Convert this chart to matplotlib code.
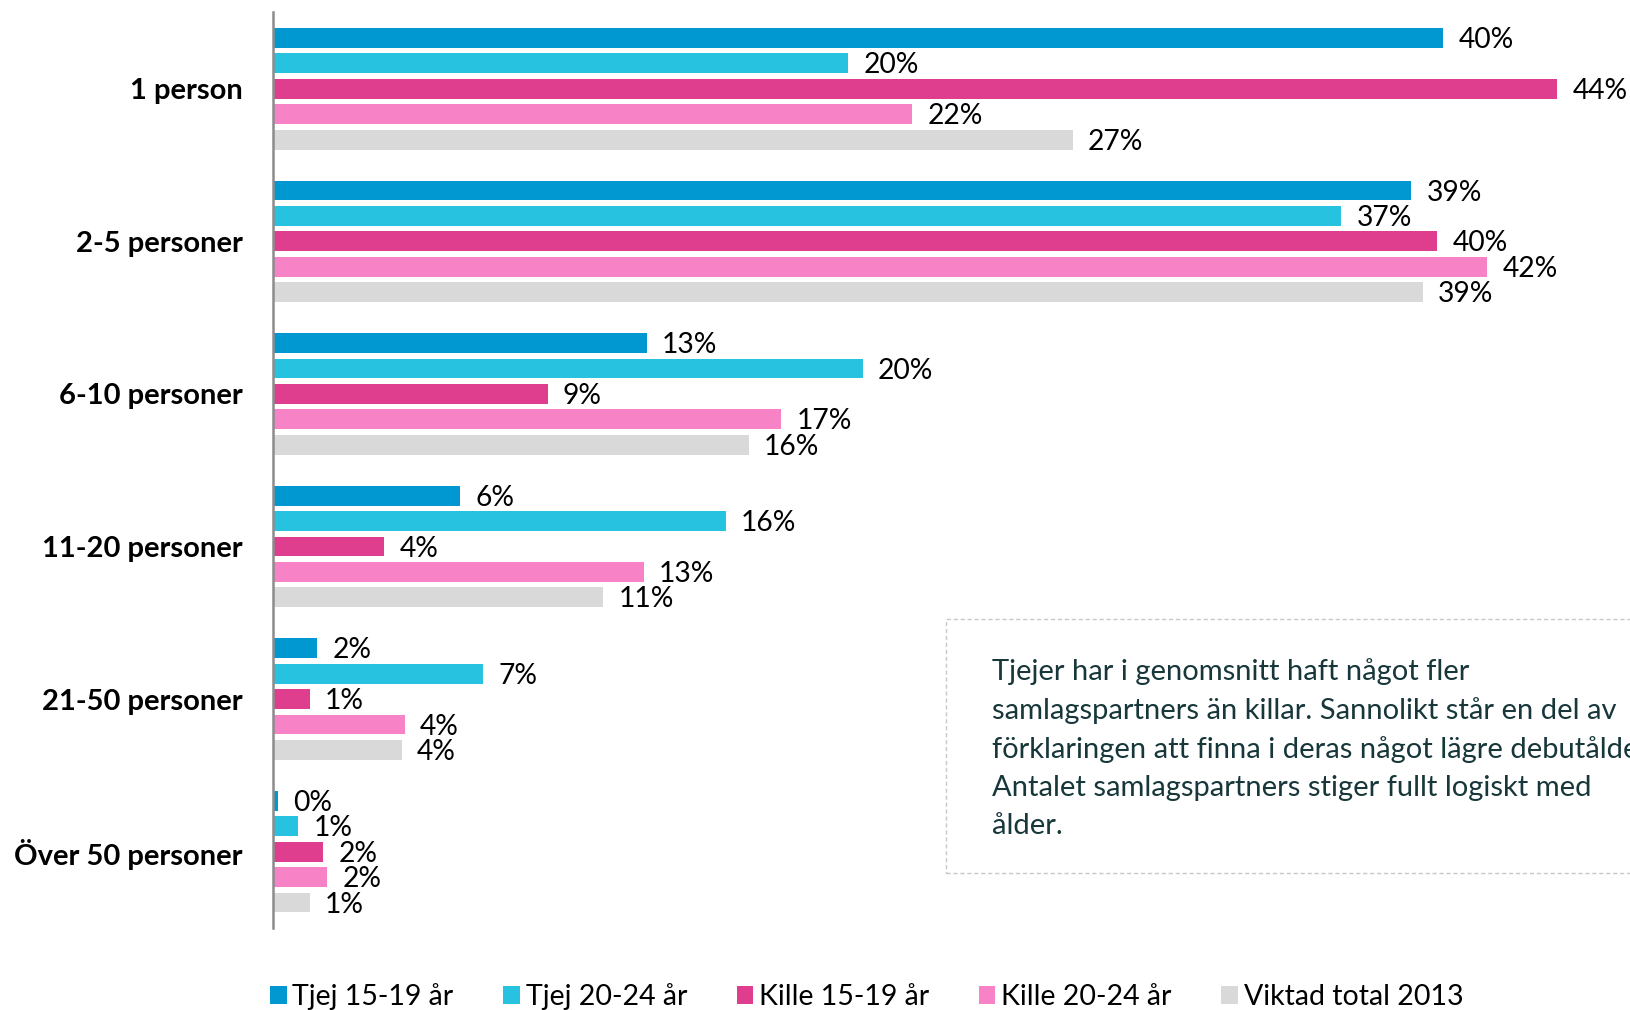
import matplotlib
matplotlib.use("Agg")
import matplotlib.pyplot as plt
import numpy as np
from matplotlib.patches import Rectangle

plt.rcParams["font.family"] = ["Lato", "DejaVu Sans"]

CATEGORIES = ["1 person", "2-5 personer", "6-10 personer", "11-20 personer",
              "21-50 personer", "Över 50 personer"]
SERIES = ["Tjej 15-19 år", "Tjej 20-24 år", "Kille 15-19 år", "Kille 20-24 år",
          "Viktad total 2013"]
# bar lengths (%), and the printed (rounded) labels
VALUES = [
    [40.1, 39.0, 12.8, 6.4, 1.5, 0.15],   # Tjej 15-19
    [19.7, 36.6, 20.2, 15.5, 7.2, 0.86],  # Tjej 20-24
    [44.0, 39.9, 9.4, 3.8, 1.25, 1.7],    # Kille 15-19
    [21.9, 41.6, 17.4, 12.7, 4.5, 1.85],  # Kille 20-24
    [27.4, 39.4, 16.3, 11.3, 4.4, 1.25],  # Viktad total
]
LABELS = [
    [40, 39, 13, 6, 2, 0],
    [20, 37, 20, 16, 7, 1],
    [44, 40, 9, 4, 1, 2],
    [22, 42, 17, 13, 4, 2],
    [27, 39, 16, 11, 4, 1],
]
COLORS = ["#0197D0", "#26C2DF", "#DF3E8E", "#F783C6", "#D9D9D9"]
NOTE = ("Tjejer har i genomsnitt haft något fler\n"
        "samlagspartners än killar. Sannolikt står en del av\n"
        "förklaringen att finna i deras något lägre debutålder.\n"
        "Antalet samlagspartners stiger fullt logiskt med\n"
        "ålder.")

fig = plt.figure(figsize=(16.3, 10.1), dpi=100)
ax = fig.add_axes([263 / 1568, 1 - 893 / 972, 1 - 263 / 1568, (893 - 12) / 972])

y = np.arange(len(CATEGORIES))
step = 0.1667
for i, (vals, labs, col) in enumerate(zip(VALUES, LABELS, COLORS)):
    pos = y + (i - 2) * step
    ax.barh(pos, vals, height=0.13, color=col, label=SERIES[i])
    for p, v, l in zip(pos, vals, labs):
        ax.annotate(f"{l}%", (v, p), xytext=(11, -1.5), textcoords="offset points",
                    ha="left", va="center", fontsize=20.3, color="black",
                    annotation_clip=False)

ax.set_xlim(0, 46.5)
ax.set_ylim(5.5, -0.5)
ax.set_yticks(y)
ax.set_yticklabels(CATEGORIES, fontsize=21, fontweight="bold")
ax.tick_params(axis="y", length=0, pad=22)
ax.set_xticks([])
for s in ["top", "right", "bottom"]:
    ax.spines[s].set_visible(False)
ax.spines["left"].set_color("#8c8c8c")
ax.spines["left"].set_linewidth(1.8)

# note box (runs off the right edge, as in the original slide)
fig.add_artist(Rectangle((910 / 1568, 1 - 840 / 972), 0.5, (840 - 596) / 972,
                         transform=fig.transFigure, fill=False, edgecolor="#c8c8c8",
                         linestyle=(0, (3, 2)), linewidth=1.0))
fig.text(954 / 1568, 1 - 633 / 972, NOTE, ha="left", va="top", fontsize=21,
         color="#17373a", linespacing=1.56)

handles, labels = ax.get_legend_handles_labels()
fig.legend(handles, labels, loc="center left", bbox_to_anchor=(249 / 1568, 1 - 959 / 972),
           ncol=5, frameon=False, fontsize=20.5, handlelength=0.58, handleheight=0.58,
           handletextpad=0.2, columnspacing=1.75, borderaxespad=0)

fig.savefig("out.png", dpi=100)
